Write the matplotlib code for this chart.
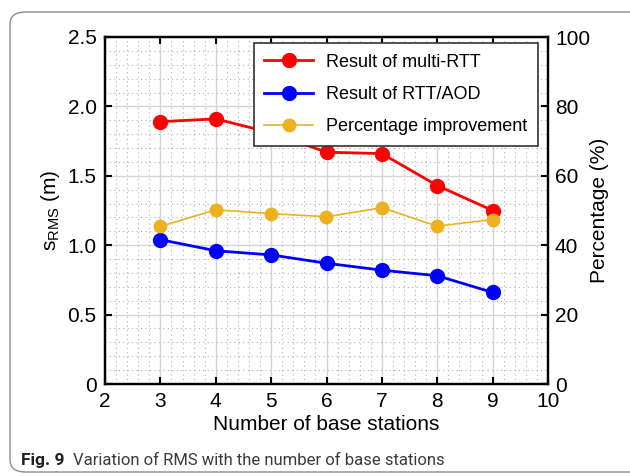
import numpy as np
import matplotlib
matplotlib.use('Agg')
import matplotlib.pyplot as plt
from matplotlib.patches import FancyBboxPatch
from matplotlib.ticker import MultipleLocator

plt.rcParams['font.family'] = ['Liberation Sans', 'DejaVu Sans']
plt.rcParams['mathtext.fontset'] = 'custom'
plt.rcParams['mathtext.rm'] = 'Liberation Sans'

# number of base stations vs RMS error
stations = [3, 4, 5, 6, 7, 8, 9]
rms_multi_rtt = [1.89, 1.91, 1.81, 1.67, 1.66, 1.43, 1.25]
rms_rtt_aod = [1.04, 0.96, 0.93, 0.87, 0.82, 0.78, 0.66]
improvement = [45.4, 50.2, 49.1, 48.2, 50.8, 45.5, 47.4]

fig = plt.figure(figsize=(6.3, 4.76), dpi=100)

# rounded caption frame
frame = FancyBboxPatch((10 / 630, 4 / 476), 640 / 630, 460 / 476,
                       boxstyle='round,pad=0,rounding_size=0.025',
                       transform=fig.transFigure, fill=False,
                       edgecolor='#8c8c8c', linewidth=1.0, zorder=0)
fig.patches.append(frame)

ax = fig.add_axes([105 / 630, 1 - 384 / 476, 443 / 630, 347 / 476])
ax2 = ax.twinx()

ax.set_xlim(2, 10)
ax.set_ylim(0, 2.5)
ax2.set_ylim(0, 100)
ax.xaxis.set_major_locator(MultipleLocator(1))
ax.xaxis.set_minor_locator(MultipleLocator(0.2))
ax.yaxis.set_minor_locator(MultipleLocator(0.1))
ax2.yaxis.set_major_locator(MultipleLocator(20))
ax.set_yticks([0, 0.5, 1.0, 1.5, 2.0, 2.5])
ax.set_yticklabels(['0', '0.5', '1.0', '1.5', '2.0', '2.5'])

ax.grid(which='major', color='#d4d4d4', linewidth=1.0, linestyle='-')
ax.grid(which='minor', color='#b0b0b0', linewidth=0.8, linestyle=(0, (1, 3)))
ax.set_axisbelow(True)

ax.tick_params(which='major', direction='in', length=5, width=1.5,
               labelsize=15, top=True, pad=6)
ax.tick_params(which='minor', length=0)
ax2.tick_params(which='major', direction='in', length=5, width=1.5,
                labelsize=15, pad=5)
for a in (ax, ax2):
    for s in a.spines.values():
        s.set_linewidth(1.6)

l1, = ax.plot(stations, rms_multi_rtt, '-o', color='#ff0000', lw=2.0,
              ms=10, label='Result of multi-RTT', zorder=3)
l2, = ax.plot(stations, rms_rtt_aod, '-o', color='#0000ff', lw=2.0,
              ms=10, label='Result of RTT/AOD', zorder=3)
l3, = ax2.plot(stations, improvement, '-o', color='#edb120', lw=1.2,
               ms=9, label='Percentage improvement', zorder=3)

ax.set_xlabel('Number of base stations', fontsize=15, labelpad=3)
ax.set_ylabel(r'$\mathregular{s_{RMS}}$ (m)', fontsize=15, labelpad=4)
ax2.set_ylabel('Percentage (%)', fontsize=15, labelpad=0)

leg = ax2.legend(handles=[l1, l2, l3], loc='upper right', fontsize=13,
                 frameon=True, fancybox=False, borderaxespad=0,
                 handlelength=2.7, labelspacing=0.85, borderpad=0.6,
                 handletextpad=0.7, bbox_to_anchor=(0.977, 0.983))
leg.get_frame().set_edgecolor('#333333')
leg.get_frame().set_linewidth(1.2)
leg.get_frame().set_alpha(1)

# figure caption
fig.text(21 / 630, 1 - 465 / 476, 'Fig. 9', fontsize=12.5, fontweight='bold',
         family=['Roboto', 'DejaVu Sans'], color='#231f20', va='baseline')
fig.text(73 / 630, 1 - 465 / 476, 'Variation of RMS with the number of base stations',
         fontsize=12, family=['Roboto', 'DejaVu Sans'], color='#3a3a3a',
         va='baseline')

fig.savefig('out.png', dpi=100)
